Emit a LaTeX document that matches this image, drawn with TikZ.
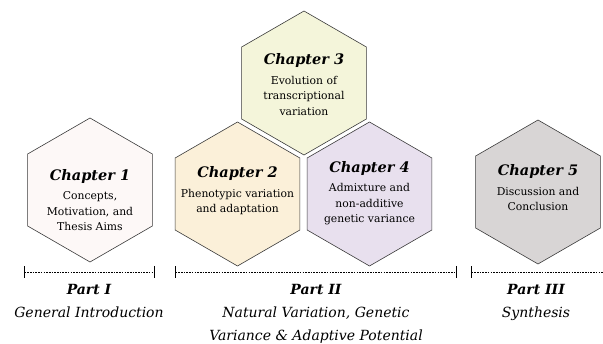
\documentclass[tikz,border=0pt]{standalone}
\usepackage{fontspec}
\setmainfont{DejaVu Serif}
\usetikzlibrary{shapes.geometric,arrows.meta}

\definecolor{hexone}{HTML}{FDF8F7}
\definecolor{hextwo}{HTML}{FBF0D9}
\definecolor{hexthree}{HTML}{F4F5DA}
\definecolor{hexfour}{HTML}{E8E0EE}
\definecolor{hexfive}{HTML}{D8D5D5}
\definecolor{hexline}{HTML}{3A3A3A}

\tikzset{
  chap/.style={regular polygon, regular polygon sides=6, shape border rotate=30,
    minimum size=144pt, inner sep=0pt, draw=hexline, line width=0.6pt},
  chaptext/.style={align=center, inner sep=0pt, font=\fontsize{10.8}{15.5}\selectfont},
  part/.style={align=center, anchor=north, font=\itshape\fontsize{14}{23}\selectfont},
  span/.style={line width=0.5pt, dash pattern=on 1.6pt off 1.1pt,
    {Bar[width=12pt,line width=0.9pt]}-{Bar[width=12pt,line width=0.9pt]}},
}
\newcommand{\chtitle}[1]{{\bfseries\itshape\fontsize{14.5}{21}\selectfont #1}\\[4pt]}

\begin{document}
\begin{tikzpicture}[x=1pt,y=-1pt]
\useasboundingbox (0,0) rectangle (603,344);

% chapters
\node[chap, fill=hexone] (ch1) at (90,190) {};
\node[chap, fill=hextwo] (ch2) at (237.5,194) {};
\node[chap, fill=hexthree] (ch3) at (304,83) {};
\node[chap, fill=hexfour] (ch4) at (369.5,194) {};
\node[chap, fill=hexfive] (ch5) at (538,192) {};

\node[chaptext] (t1) at ([yshift=-10pt]ch1) {\chtitle{Chapter 1}Concepts,\\Motivation, and\\Thesis Aims};
\node[chaptext] (t2) at ([yshift=3pt]ch2) {\chtitle{Chapter 2}Phenotypic variation\\and adaptation};
\node[chaptext] (t3) at ([yshift=-1.5pt]ch3) {\chtitle{Chapter 3}Evolution of\\transcriptional\\variation};
\node[chaptext] (t4) at ([yshift=1pt]ch4) {\chtitle{Chapter 4}Admixture and\\non-additive\\genetic variance};
\node[chaptext] (t5) at ([yshift=4pt]ch5) {\chtitle{Chapter 5}Discussion and\\Conclusion};

% parts
\coordinate (p1a) at (24,272);
\coordinate (p1b) at (155,272);
\coordinate (p2a) at (175,272);
\coordinate (p2b) at (457,272);
\coordinate (p3a) at (471,272);
\coordinate (p3b) at (610,272);
\draw[span] (p1a) -- (p1b);
\draw[span] (p2a) -- (p2b);
\draw[span, {Bar[width=12pt,line width=0.9pt]}-] (p3a) -- (p3b);

\node[part] (part1) at (89,281) {\textbf{Part I}\\General Introduction};
\node[part] (part2) at (316,281) {\textbf{Part II}\\Natural Variation, Genetic\\Variance \& Adaptive Potential};
\node[part] (part3) at (536,281) {\textbf{Part III}\\Synthesis};
%\node at (300,10) {Thesis overview};
\end{tikzpicture}
\end{document}
